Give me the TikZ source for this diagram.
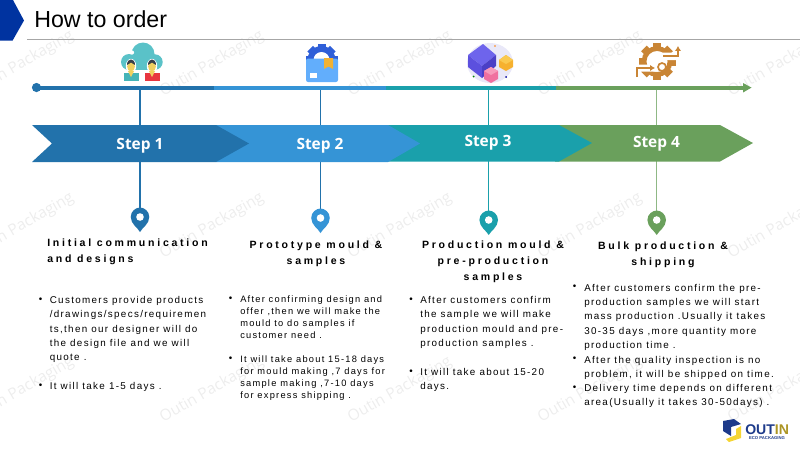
\documentclass[tikz,border=0pt]{standalone}
\usepackage{fontspec}
\setmainfont{Liberation Sans}
\newfontfamily\stepfont{Open Sans}
\newfontfamily\markfont{Open Sans}
\newfontfamily\headfont[LetterSpace=26]{Liberation Sans}
\newfontfamily\bodyfont[LetterSpace=13.5]{Liberation Sans}
\usetikzlibrary{arrows.meta}
\definecolor{stepone}{HTML}{2272AB}
\definecolor{steptwo}{HTML}{3594D6}
\definecolor{stepthree}{HTML}{1AA0AB}
\definecolor{stepfour}{HTML}{6AA05C}
\definecolor{headblue}{HTML}{0033A0}
\definecolor{cloudteal}{HTML}{5AC2C8}
\definecolor{shirtteal}{HTML}{45B4B8}
\definecolor{shirtred}{HTML}{E8363F}
\definecolor{skinyellow}{HTML}{EFD060}
\definecolor{hairdark}{HTML}{37404A}
\definecolor{gearblue}{HTML}{2F5FD8}
\definecolor{boxblue}{HTML}{62AEFC}
\definecolor{tagorange}{HTML}{F2B233}
\definecolor{cubetop}{HTML}{6E64EC}
\definecolor{cubeleft}{HTML}{5C50DE}
\definecolor{cuberight}{HTML}{4B3FC6}
\definecolor{cubehalo}{HTML}{E9E8F8}
\definecolor{pinkside}{HTML}{F0709F}
\definecolor{pinktop}{HTML}{F79ABB}
\definecolor{goldside}{HTML}{F6B12F}
\definecolor{goldtop}{HTML}{FAC94F}
\definecolor{gearorange}{HTML}{C98535}
\definecolor{logonavy}{HTML}{1D3A8A}
\definecolor{logoyellow}{HTML}{F5D533}
\tikzset{
  steplbl/.style   = {font=\stepfont\bfseries\fontsize{11}{14}\selectfont, text=white, inner sep=0pt},
  headlbl/.style   = {font=\headfont\bfseries\fontsize{7.5}{11.2}\selectfont, inner sep=0pt},
  bodylbl/.style   = {font=\bodyfont\fontsize{7}{10.2}\selectfont, inner sep=0pt, align=left, anchor=north west},
  bodytight/.style = {bodylbl, font=\bodyfont\fontsize{6.6}{8.6}\selectfont},
  dotlbl/.style    = {font=\fontsize{7}{8}\selectfont, inner sep=0pt},
  wmark/.style     = {font=\markfont\fontsize{11}{12}\selectfont, text=black!7, rotate=30, inner sep=0pt},
  stem/.style      = {line width=0.75pt},
}
\begin{document}
\begin{tikzpicture}[x=0.025cm,y=-0.025cm]
  \useasboundingbox (0,0) rectangle (800,450);
  % watermark
  \foreach \y [count=\r] in {64,226,390}
    \foreach \x [count=\c] in {22,212,400,590,780}
      \node[wmark] (mark\r\c) at (\x,\y) {Outin Packaging};
  % title bar
  \fill[headblue] (0,0) -- (13,0) -- (24,20.5) -- (12.5,40.7) -- (0,40.7) -- cycle;
  \draw[black!35, line width=0.7pt] (27,39.5) -- (800,39.5);
  \node[font=\fontsize{16.5}{18}\selectfont, anchor=west, inner sep=0pt] (title) at (34,19) {How to order};
  % anchors on the time line and the pins
  \coordinate (tl1) at (140,87.5);   \coordinate (pin1) at (140,217);
  \coordinate (tl2) at (320.5,87.5); \coordinate (pin2) at (320.5,218);
  \coordinate (tl3) at (488.7,87.5); \coordinate (pin3) at (488.7,220);
  \coordinate (tl4) at (656.7,87.5); \coordinate (pin4) at (656.7,220);
  % stems
  \draw[stem, stepone]           (tl1) -- (pin1);
  \draw[stem, stepone]           (tl2) -- (pin2);
  \draw[stem, stepthree]         (tl3) -- (pin3);
  \draw[stem, stepfour!75!white] (tl4) -- (pin4);
  % time line
  \fill[stepone] (36.5,87.5) circle (4.6);
  \fill[stepone]   (36.5,85.5) rectangle (214,89.8);
  \fill[steptwo]   (214,85.5) rectangle (386,89.8);
  \fill[stepthree] (386,85.5) rectangle (556,89.8);
  \fill[stepfour]  (556,85.5) rectangle (744,89.8);
  \fill[stepfour]  (743,83) -- (751.5,87.6) -- (743,92.5) -- cycle;
  % step arrows
  \fill[stepfour]  (555,125) -- (720,125) -- (753,143) -- (720,161.5) -- (555,161.5) -- cycle;
  \fill[stepthree] (388,125) -- (559,125) -- (592,143) -- (559,161.5) -- (388,161.5) -- cycle;
  \fill[steptwo]   (216,125) -- (388,125) -- (420,143.5) -- (388,162) -- (216,162) -- cycle;
  \fill[stepone]   (32,125) -- (216,125) -- (249,143.5) -- (216,162) -- (32,162) -- (52,143.5) -- cycle;
  \node[steplbl] (step1) at (140,145.5) {Step 1};
  \node[steplbl] (step2) at (320,146) {Step 2};
  \node[steplbl] (step3) at (488,142.5) {Step 3};
  \node[steplbl] (step4) at (656.5,143.5) {Step 4};
  % pins
  \foreach \n/\c in {1/stepone,2/steptwo,3/stepthree,4/stepfour}{
    \begin{scope}[shift={(pin\n)}]
      \fill[\c] (0,15) .. controls (-2,11) and (-9.3,7) .. (-9.3,0)
        .. controls (-9.3,-6) and (-4,-9.5) .. (0,-9.5)
        .. controls (4,-9.5) and (9.3,-6) .. (9.3,0)
        .. controls (9.3,7) and (2,11) .. (0,15) -- cycle;
      \fill[white] (0,0) circle (3.8);
    \end{scope}
  }
  % cloud icon
  \fill[cloudteal] (129,62) circle (8) (143,54) circle (11.5) (155,62) circle (7.7);
  \fill[cloudteal] (129,56) rectangle (155,70);
  \fill[white] (132,52.5) circle (2.1);
  \fill[white] (131,66) ellipse (5.2 and 7.2) (152,66) ellipse (5.2 and 7.2);
  \fill[shirtteal] (124,73) rectangle (138.5,81);
  \fill[shirtred] (144.5,73) rectangle (159.5,81);
  \fill[skinyellow] (128,71) -- (134,71) -- (131,77) -- cycle (149,71) -- (155,71) -- (152,77) -- cycle;
  \fill[skinyellow] (131,66.5) ellipse (3.9 and 5) (152,66.5) ellipse (3.9 and 5);
  \fill[hairdark] (127,65) .. controls (127,57.5) and (135,57.5) .. (135,65) -- (131,62.5) -- cycle
                  (148,65) .. controls (148,57.5) and (156,57.5) .. (156,65) -- (152,62.5) -- cycle;
  % box icon
  \fill[gearblue] (321.5,60) circle (14);
  \foreach \a in {0,45,...,315}
    \fill[gearblue, rotate around={\a:(321.5,60)}] (317.5,44) rectangle (325.5,50);
  \fill[white] (321.5,60) circle (8);
  \fill[boxblue, rounded corners=1.5pt] (306,58.5) rectangle (338,82);
  \fill[tagorange] (324,58) -- (333,58) -- (333,69) -- (328.5,66.5) -- (324,69) -- cycle;
  \fill[white] (310,73) rectangle (317,78);
  % cubes icon
  \fill[cubehalo] (490,63) ellipse (23 and 20);
  \fill[cubetop] (483,44) -- (496,55) -- (482,66) -- (468,55) -- cycle;
  \fill[cubeleft] (468,55) -- (482,66) -- (482,78) -- (468,67) -- cycle;
  \fill[cuberight] (496,55) -- (482,66) -- (482,78) -- (496,66) -- cycle;
  \fill[goldside] (506,55) -- (513,60) -- (513,67) -- (506,71) -- (499,67) -- (499,60) -- cycle;
  \fill[goldtop] (506,55) -- (513,60) -- (506,64) -- (499,60) -- cycle;
  \fill[pinkside] (491,67) -- (498,71) -- (498,79) -- (491,83) -- (484,79) -- (484,71) -- cycle;
  \fill[pinktop] (491,67) -- (498,71) -- (491,75) -- (484,71) -- cycle;
  \fill[orange] (495,46) circle (0.9);
  \fill[green!50!black] (473.5,76.5) circle (1);
  \fill[blue!60!black] (506,77) circle (1);
  % gear icon
  \draw[gearorange, line width=3.4pt] (657,61.5) circle (13);
  \foreach \a in {0,45,...,315}
    \fill[gearorange, rotate around={\a:(657,61.5)}] (653,43) rectangle (661,50);
  \fill[white] (661,52.5) rectangle (684,60) (633,64.5) rectangle (656,71.5) (634,64.5) rectangle (640,82);
  \draw[gearorange, line width=1.5pt, -{Latex[length=3.5pt,width=4.5pt]}] (663,56) -- (678,56) -- (678,46);
  \draw[gearorange, line width=1.5pt, -{Latex[length=3.5pt,width=4.5pt]}] (637,77) -- (637,68) -- (655,68);
  \draw[gearorange, line width=1.2pt] (662,67) circle (4);
  % headings
  \node[headlbl, align=left, anchor=north west] (head1) at (47,238.5) {Initial communication\\and designs};
  \node[headlbl, align=center, anchor=north] (head2) at (316,240.5) {Prototype mould \&\\samples};
  \node[headlbl, align=center, anchor=north] (head3) at (493,241) {Production mould \&\\pre-production\\samples};
  \node[headlbl, align=center, anchor=north] (head4) at (663,241.5) {Bulk production \&\\shipping};
  % step 1 notes
  \node[dotlbl] (dot11) at (40.5,300) {•};
  \node[bodylbl] (note11) at (49.5,296.2) {Customers provide products\\/drawings/specs/requiremen\\ts,then our designer will do\\the design file and we will\\quote .};
  \node[dotlbl] (dot12) at (40.5,386) {•};
  \node[bodylbl] (note12) at (49.5,382.2) {It will take 1-5 days .};
  % step 2 notes
  \node[dotlbl] (dot21) at (230.5,299) {•};
  \node[bodytight] (note21) at (240,295.2) {After confirming design and\\offer ,then we will make the\\mould to do samples if\\customer need .};
  \node[dotlbl] (dot22) at (230.5,359) {•};
  \node[bodytight] (note22) at (240,355.2) {It will take about 15-18 days\\for mould making ,7 days for\\sample making ,7-10 days\\for express shipping .};
  % step 3 notes
  \node[dotlbl] (dot31) at (411,300) {•};
  \node[bodylbl] (note31) at (420,296.2) {After customers confirm\\the sample we will make\\production mould and pre-\\production samples .};
  \node[dotlbl] (dot32) at (411,372) {•};
  \node[bodylbl] (note32) at (420,368.2) {It will take about 15-20\\days.};
  % step 4 notes
  \node[dotlbl] (dot41) at (574.5,287.5) {•};
  \node[bodylbl] (note41) at (584,283.6) {After customers confirm the pre-\\production samples we will start\\mass production .Usually it takes\\30-35 days ,more quantity more\\production time .};
  \node[dotlbl] (dot42) at (574.5,359.5) {•};
  \node[bodylbl] (note42) at (584,355.6) {After the quality inspection is no\\problem, it will be shipped on time.};
  \node[dotlbl] (dot43) at (574.5,388) {•};
  \node[bodylbl] (note43) at (584,384.1) {Delivery time depends on different\\area(Usually it takes 30-50days) .};
  % logo
  \fill[logonavy] (723,421) -- (734,419) -- (741,424) -- (731,427) -- (731,436) -- (723,431) -- cycle;
  \fill[logoyellow] (741,426) -- (741,438) -- (729,442) -- (726,439) -- (736,435) -- (736,429) -- cycle;
  \node[font=\bfseries\fontsize{10}{12}\selectfont, inner sep=0pt, anchor=west] (logo) at (745,429.5)
    {\textcolor{logonavy}{OUT}\textcolor{logoyellow!70!black}{IN}};
  \node[font=\bfseries\fontsize{3}{4}\selectfont, text=logonavy, inner sep=0pt] (logosub) at (767,438) {ECO PACKAGING};
\end{tikzpicture}
\end{document}
